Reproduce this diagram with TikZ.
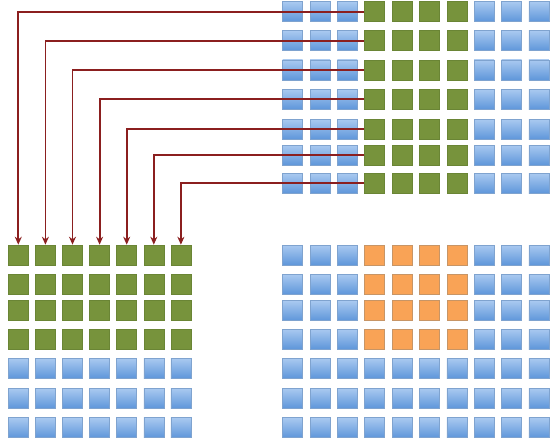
\documentclass[tikz,border=0pt]{standalone}
\usepackage{tikz}
\usetikzlibrary{arrows.meta,positioning,calc}
\definecolor{cellgreen}{HTML}{77933C}
\definecolor{cellgreenline}{HTML}{6A8535}
\definecolor{cellbluetop}{HTML}{A9C9F0}
\definecolor{cellbluebot}{HTML}{5E96DA}
\definecolor{cellblueline}{HTML}{7FA3CF}
\definecolor{cellorange}{HTML}{F9A356}
\definecolor{cellorangeline}{HTML}{C79566}
\definecolor{linkred}{HTML}{8B1F1F}

\begin{document}
\begin{tikzpicture}[
    x=1pt, y=-1pt,
    cell/.style={rectangle, inner sep=0pt, minimum width=20pt, minimum height=20pt, line width=0.6pt},
    bluecell/.style={cell, draw=cellblueline, top color=cellbluetop, bottom color=cellbluebot},
    greencell/.style={cell, draw=cellgreenline, fill=cellgreen},
    orangecell/.style={cell, draw=cellorangeline, fill=cellorange},
    link/.style={color=linkred, line width=1.8pt, -{Stealth[length=8pt,width=7pt]}}
]
\useasboundingbox (0,0) rectangle (553,441);

% Source grid (top right)
\foreach \r/\y in {0/11.7,1/40.7,2/70,3/99.3,4/129.3,5/155,6/183.3}
  \foreach \c in {0,...,9} {
    \ifnum\c<3
      \node (t-\r-\c) [bluecell] at (292.7+27.35*\c,\y) {};
    \else\ifnum\c<7
      \node (t-\r-\c) [greencell] at (292.7+27.35*\c,\y) {};
    \else
      \node (t-\r-\c) [bluecell] at (292.7+27.35*\c,\y) {};
    \fi\fi
  }

% Target grid (bottom left)
\foreach \r/\y in {0/255,1/284.3,2/310.7,3/339,4/368.3,5/398.3,6/427.7}
  \foreach \c in {0,...,6} {
    \ifnum\r<4
      \node (l-\r-\c) [greencell] at (18.3+27.1*\c,\y) {};
    \else
      \node (l-\r-\c) [bluecell] at (18.3+27.1*\c,\y) {};
    \fi
  }

% Result grid (bottom right)
\foreach \r/\y in {0/255,1/284.3,2/310.7,3/339,4/368.3,5/398.3,6/427.7}
  \foreach \c in {0,...,9} {
    \pgfmathtruncatemacro{\hot}{(\r<4)*(\c>2)*(\c<7)}
    \ifnum\hot=1
      \node (b-\r-\c) [orangecell] at (292.7+27.35*\c,\y) {};
    \else
      \node (b-\r-\c) [bluecell] at (292.7+27.35*\c,\y) {};
    \fi
  }

% Row i of the source becomes column i of the target
\foreach \i in {0,...,6}
  \draw[link] (t-\i-3.west) -| (l-0-\i.north);

\end{tikzpicture}
\end{document}
